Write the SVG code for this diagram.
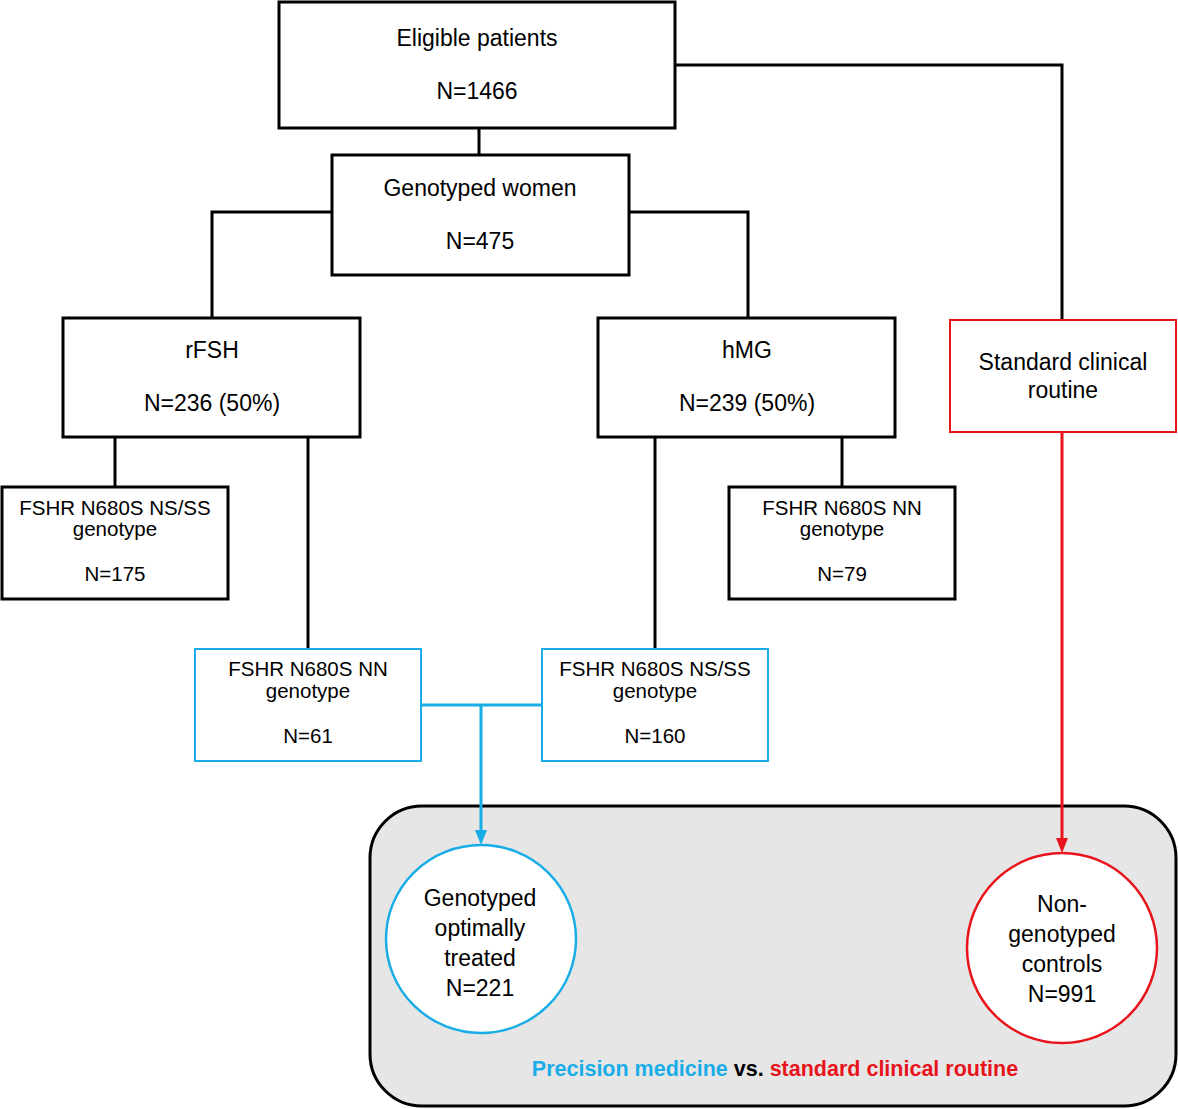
<svg xmlns="http://www.w3.org/2000/svg" width="1178" height="1109" viewBox="0 0 1178 1109">
<style>
text{font-family:"Liberation Sans","Open Sans",sans-serif;font-size:23px;fill:#000;text-anchor:middle;dominant-baseline:central}
.sm{font-size:20.5px}
.bk{fill:#fff;stroke:#000;stroke-width:3}
.bl{fill:#fff;stroke:#19ade8;stroke-width:2}
.rd{fill:#fff;stroke:#e8131b;stroke-width:2}
.cb{fill:none;stroke:#000;stroke-width:3}
.cblue{fill:none;stroke:#19ade8;stroke-width:3}
.cred{fill:none;stroke:#e8131b;stroke-width:3}
.bold{font-weight:bold;font-size:21.5px}
</style>
<g id="group-bg">
<rect x="370" y="806" width="806" height="300" rx="52" ry="52" fill="#e6e6e6" stroke="#000" stroke-width="3"/>
</g>
<g id="connectors">
<path class="cb" d="M479,128 V155"/>
<path class="cb" d="M675,65 H1062 V320"/>
<path class="cb" d="M332,212 H212 V318"/>
<path class="cb" d="M629,212 H748 V318"/>
<path class="cb" d="M115,437 V487"/>
<path class="cb" d="M308,437 V648"/>
<path class="cb" d="M655,437 V648"/>
<path class="cb" d="M842,437 V487"/>
<path class="cblue" d="M421,705 H542"/>
<path class="cblue" d="M481,705 V832"/>
<path d="M475,830 L487,830 L481,845 Z" fill="#19ade8"/>
<path class="cred" d="M1062,432 V840"/>
<path d="M1056,838 L1068,838 L1062,853 Z" fill="#e8131b"/>
</g>
<g id="eligible">
<rect class="bk" x="279" y="2" width="396" height="126"/>
<text x="477" y="38">Eligible patients</text>
<text x="477" y="91">N=1466</text>
</g>
<g id="genotyped-women">
<rect class="bk" x="332" y="155" width="297" height="120"/>
<text x="480" y="188">Genotyped women</text>
<text x="480" y="241">N=475</text>
</g>
<g id="rfsh">
<rect class="bk" x="63" y="318" width="297" height="119"/>
<text x="212" y="350">rFSH</text>
<text x="212" y="403">N=236 (50%)</text>
</g>
<g id="hmg">
<rect class="bk" x="598" y="318" width="297" height="119"/>
<text x="747" y="350">hMG</text>
<text x="747" y="403">N=239 (50%)</text>
</g>
<g id="standard">
<rect class="rd" x="950" y="320" width="226" height="112"/>
<text x="1063" y="362">Standard clinical</text>
<text x="1063" y="390">routine</text>
</g>
<g id="rfsh-nsss">
<rect class="bk" x="2" y="487" width="226" height="112"/>
<text class="sm" x="115" y="507">FSHR N680S NS/SS</text>
<text class="sm" x="115" y="528">genotype</text>
<text class="sm" x="115" y="573">N=175</text>
</g>
<g id="hmg-nn">
<rect class="bk" x="729" y="487" width="226" height="112"/>
<text class="sm" x="842" y="507">FSHR N680S NN</text>
<text class="sm" x="842" y="528">genotype</text>
<text class="sm" x="842" y="573">N=79</text>
</g>
<g id="rfsh-nn">
<rect class="bl" x="195" y="649" width="226" height="112"/>
<text class="sm" x="308" y="668">FSHR N680S NN</text>
<text class="sm" x="308" y="690">genotype</text>
<text class="sm" x="308" y="735">N=61</text>
</g>
<g id="hmg-nsss">
<rect class="bl" x="542" y="649" width="226" height="112"/>
<text class="sm" x="655" y="668">FSHR N680S NS/SS</text>
<text class="sm" x="655" y="690">genotype</text>
<text class="sm" x="655" y="735">N=160</text>
</g>
<g id="optimal">
<ellipse cx="481" cy="939" rx="95" ry="94" fill="#fff" stroke="#19ade8" stroke-width="2.5"/>
<text x="480" y="898">Genotyped</text>
<text x="480" y="928">optimally</text>
<text x="480" y="958">treated</text>
<text x="480" y="988">N=221</text>
</g>
<g id="controls">
<ellipse cx="1062" cy="948" rx="95" ry="95" fill="#fff" stroke="#e8131b" stroke-width="2.5"/>
<text x="1062" y="904">Non-</text>
<text x="1062" y="934">genotyped</text>
<text x="1062" y="964">controls</text>
<text x="1062" y="994">N=991</text>
</g>
<g id="caption">
<text class="bold" x="775" y="1069"><tspan fill="#19ade8">Precision medicine</tspan> vs. <tspan fill="#e8131b">standard clinical routine</tspan></text>
</g>
</svg>
